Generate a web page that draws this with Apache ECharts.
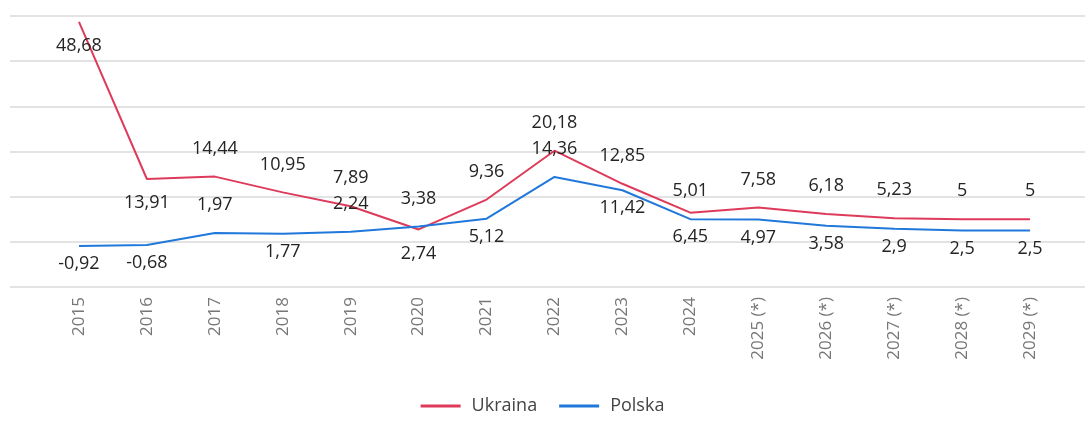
<!DOCTYPE html>
<html>
<head>
<meta charset="utf-8">
<script src="https://cdn.jsdelivr.net/npm/echarts@6/dist/echarts.min.js"></script>
<style>
  html, body { margin: 0; padding: 0; background: #fff; }
  #chart { width: 1085px; height: 422px; }
</style>
</head>
<body>
<div id="chart"></div>
<script>
// lata
var years = ['2015', '2016', '2017', '2018', '2019', '2020', '2021', '2022', '2023', '2024',
  '2025 (*)', '2026 (*)', '2027 (*)', '2028 (*)', '2029 (*)'];

// inflacja, %
var ukraina = [48.68, 13.91, 14.44, 10.95, 7.89, 2.74, 9.36, 20.18, 12.85, 6.45, 7.58, 6.18, 5.23, 5, 5];
var polska = [-0.92, -0.68, 1.97, 1.77, 2.24, 3.38, 5.12, 14.36, 11.42, 5.01, 4.97, 3.58, 2.9, 2.5, 2.5];

// gdzie stoi etykieta (nad / pod punktem)
var ukrainaPos = ['bottom', 'bottom', 'top', 'top', 'top', 'bottom', 'top', 'top', 'top', 'bottom',
  'top', 'top', 'top', 'top', 'top'];
var polskaPos = ['bottom', 'bottom', 'top', 'bottom', 'top', 'top', 'bottom', 'top', 'bottom', 'top',
  'bottom', 'bottom', 'bottom', 'bottom', 'bottom'];

var font = '"Open Sans", sans-serif';

function withLabels(values, positions, distTop, distBottom) {
  return values.map(function (v, i) {
    var pos = positions[i];
    return {
      value: v,
      label: { position: pos, distance: pos === 'top' ? distTop : distBottom }
    };
  });
}

function fmt(p) {
  return String(p.value).replace('.', ',');
}

var chart = echarts.init(document.getElementById('chart'));

chart.setOption({
  animation: false,
  textStyle: { fontFamily: font },
  legend: {
    bottom: 2,
    left: 'center',
    icon: 'rect',
    itemWidth: 40,
    itemHeight: 3,
    itemGap: 22,
    textStyle: { fontFamily: font, fontSize: 18, color: '#444', padding: [0, 0, 0, 6] },
    data: ['Ukraina', 'Polska']
  },
  grid: [
    // tylko linie siatki, na calej szerokosci
    { left: 10, right: 0, top: 16, bottom: 135 },
    // dane
    { left: 45, right: 21, top: 16, bottom: 135 }
  ],
  xAxis: [
    { gridIndex: 0, type: 'value', show: false },
    {
      gridIndex: 1,
      type: 'category',
      data: years,
      axisLine: { show: false },
      axisTick: { show: false },
      axisLabel: {
        rotate: 90,
        margin: 10,
        fontFamily: font,
        fontSize: 17,
        color: '#777'
      }
    }
  ],
  yAxis: [
    {
      gridIndex: 0,
      type: 'value',
      min: -10,
      max: 50,
      interval: 10,
      axisLabel: { show: false },
      axisLine: { show: false },
      axisTick: { show: false },
      splitLine: { lineStyle: { color: '#e3e3e3', width: 2 } }
    },
    {
      gridIndex: 1,
      type: 'value',
      min: -10,
      max: 50,
      interval: 10,
      show: false,
      splitLine: { show: false }
    }
  ],
  series: [
    {
      name: 'Ukraina',
      type: 'line',
      xAxisIndex: 1,
      yAxisIndex: 1,
      data: withLabels(ukraina, ukrainaPos, 19, 15),
      symbol: 'circle',
      symbolSize: 0,
      itemStyle: { color: '#de3b5b' },
      lineStyle: { color: '#de3b5b', width: 2 },
      label: {
        show: true,
        formatter: fmt,
        fontFamily: font,
        fontSize: 18,
        color: '#252423'
      }
    },
    {
      name: 'Polska',
      type: 'line',
      xAxisIndex: 1,
      yAxisIndex: 1,
      data: withLabels(polska, polskaPos, 19, 9),
      symbol: 'circle',
      symbolSize: 0,
      itemStyle: { color: '#2178db' },
      lineStyle: { color: '#2178db', width: 2 },
      label: {
        show: true,
        formatter: fmt,
        fontFamily: font,
        fontSize: 18,
        color: '#252423'
      }
    }
  ]
});
</script>
</body>
</html>
